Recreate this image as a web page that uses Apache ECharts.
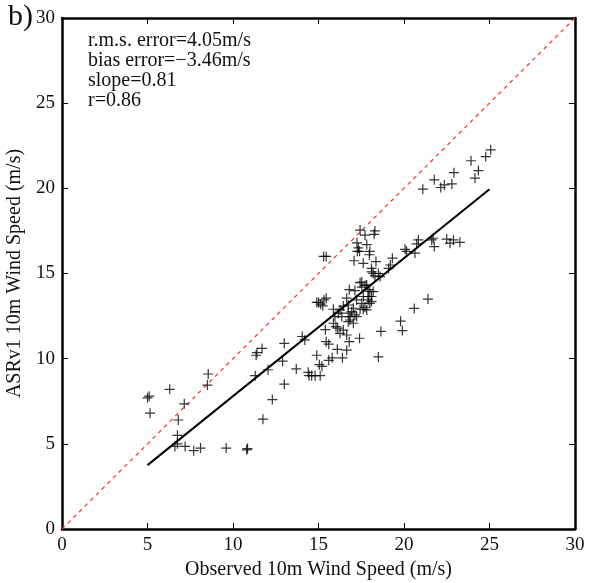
<!DOCTYPE html>
<html>
<head>
<meta charset="utf-8">
<title>ASRv1 wind speed scatter</title>
<script src="https://cdn.jsdelivr.net/npm/echarts@6/dist/echarts.min.js"></script>
<style>
  html, body { margin: 0; padding: 0; background: #fff; }
  #chart { width: 589px; height: 583px; }
</style>
</head>
<body>
<div id="chart"></div>
<script>
// observed 10m wind speed (m/s)
var obsSpeed = [
  5.0, 5.1, 5.15, 6.3, 7.15, 6.8, 6.75, 6.6, 6.75, 7.2, 7.7, 8.1, 8.55, 8.5, 9.6, 10.8, 10.85,
  11.35, 11.4, 11.3, 11.75, 11.7, 12.05, 12.3, 12.9, 13.0, 13.0, 13.7, 14.05, 14.2,
  14.4, 14.45, 14.6, 14.8, 15.1, 14.9, 15.05, 15.2, 15.4, 15.45, 15.6, 15.6, 15.8,
  16.1, 16.4, 16.65, 16.8, 17.4, 18.5, 18.65, 19.8, 19.9, 20.6, 21.4,
  21.1, 21.77, 22.15, 22.36, 22.8, 22.92, 23.92, 24.15, 24.35, 24.78, 25.07,
  19.1, 19.2, 19.32, 20.06, 20.15, 20.64, 20.74, 20.84, 21.62, 21.71, 21.77, 22.5, 22.69, 22.89, 23.27,
  15.3, 15.45, 17.43, 17.72, 18.3, 18.25, 17.25, 17.33, 17.4, 17.27, 17.82, 18.0, 17.08, 17.62,
  17.97, 18.36, 18.1, 18.2, 18.5, 17.53, 17.72, 17.53, 17.9, 18.0, 18.1, 16.8, 16.65, 17.23,
  17.62, 17.9, 18.1, 15.0, 15.13, 15.32, 15.45, 15.25, 14.9,
  15.87, 16.26, 16.45, 16.74, 17.04, 17.43, 17.72, 18.0, 16.84, 17.13, 15.96, 16.36, 16.74, 16.16,
  16.02, 16.12, 16.26, 16.45, 16.74, 16.84, 17.04, 17.23, 16.65, 15.87,
  18.3, 18.6, 18.11, 17.82, 17.91, 17.53, 17.82, 18.2, 17.13, 17.43, 17.62, 16.94
];
// ASRv1 10m wind speed (m/s)
var asrSpeed = [
  7.7, 7.8, 6.8, 8.2, 7.35, 6.4, 5.5, 4.85, 5.0, 4.85, 4.6, 4.75, 9.1, 8.45, 4.75, 4.65, 4.72,
  10.2, 10.35, 9.0, 6.45, 10.6, 9.35, 7.6, 9.85, 10.9, 8.5, 9.4, 11.3, 11.1,
  9.2, 9.0, 9.0, 9.0, 9.0, 10.2, 9.65, 9.55, 11.7, 11.0, 10.85, 9.9, 10.05,
  10.55, 10.05, 10.5, 11.0, 11.2, 10.1, 11.6, 12.2, 11.65, 12.95, 13.5,
  19.95, 20.5, 20.05, 20.2, 20.26, 20.92, 21.62, 20.6, 21.04, 21.86, 22.26,
  15.3, 15.5, 15.9, 16.42, 16.3, 16.2, 16.74, 16.97, 16.97, 17.07, 16.58, 17.02, 16.78, 16.97, 16.83,
  16.0, 16.0, 17.55, 17.25, 17.5, 17.3, 16.8, 16.5, 16.3, 16.3, 16.7, 16.3, 15.75, 15.6,
  16.1, 15.7, 15.3, 15.0, 15.0, 14.5, 14.3, 14.2, 14.05, 13.95, 13.65, 14.05, 13.55, 13.45,
  13.65, 13.45, 13.35, 13.3, 13.2, 13.45, 13.55, 13.1, 13.3,
  12.9, 12.86, 13.09, 13.15, 12.96, 12.9, 13.02, 13.25, 12.47, 12.57, 12.47, 12.47, 12.67, 12.67,
  11.88, 11.79, 11.49, 11.68, 12.17, 12.27, 12.08, 12.47, 11.39, 12.08,
  14.86, 14.82, 15.1, 14.33, 13.64, 13.25, 12.86, 13.94, 14.0, 14.46, 12.9, 12.76
];
// regression line end points and 1:1 line
var fitX = [5.0, 25.0];
var fitY = [3.75, 19.95];
var oneToOne = [0, 30];
var axisTicks = [0, 5, 10, 15, 20, 25, 30];
var statsText = ['r.m.s. error=4.05m/s', 'bias error=\u22123.46m/s', 'slope=0.81', 'r=0.86'];

var chart = echarts.init(document.getElementById('chart'));

var pts = [];
for (var i = 0; i < obsSpeed.length; i++) {
  pts.push([obsSpeed[i], asrSpeed[i]]);
}
var fitLine = [[fitX[0], fitY[0]], [fitX[1], fitY[1]]];
var diagLine = [[oneToOne[0], oneToOne[0]], [oneToOne[1], oneToOne[1]]];

var serif = '"Liberation Serif", "DejaVu Serif", serif';
var axMin = axisTicks[0], axMax = axisTicks[axisTicks.length - 1];

function makeAxis(pos, showLabel, name) {
  var ax = {
    type: 'value',
    position: pos,
    min: axMin,
    max: axMax,
    interval: 5,
    axisLine: { show: true, onZero: false, lineStyle: { color: '#000', width: 2.5 } },
    axisTick: { show: true, inside: true, length: 6, lineStyle: { color: '#000', width: 1 } },
    axisLabel: { show: showLabel, color: '#111', fontFamily: serif, fontSize: 19, margin: 7 },
    splitLine: { show: false }
  };
  if (name) {
    ax.name = name;
    ax.nameLocation = 'middle';
    ax.nameTextStyle = { color: '#111', fontFamily: serif, fontSize: 20 };
  }
  return ax;
}

var xBottom = makeAxis('bottom', true, 'Observed 10m Wind Speed (m/s)');
xBottom.nameGap = 26;
var yLeft = makeAxis('left', true, 'ASRv1 10m Wind Speed (m/s)');
yLeft.nameGap = 27;

var graphics = [{
  type: 'text', left: 8, top: 2,
  style: { text: 'b)', fontFamily: serif, fontSize: 30, fill: '#111' }
}];
for (var k = 0; k < statsText.length; k++) {
  graphics.push({
    type: 'text', left: 88, top: 31 + k * 20,
    style: { text: statsText[k], fontFamily: serif, fontSize: 20, fill: '#111' }
  });
}

var option = {
  backgroundColor: '#fff',
  animation: false,
  grid: { left: 62, right: 14, top: 18, bottom: 54, containLabel: false, outerBoundsMode: 'none' },
  xAxis: [xBottom, makeAxis('top', false)],
  yAxis: [yLeft, makeAxis('right', false)],
  graphic: graphics,
  series: [
    {
      type: 'line',
      data: diagLine,
      symbol: 'none',
      lineStyle: { color: '#ff3030', width: 1.2, type: [4, 4] },
      z: 1
    },
    {
      type: 'scatter',
      data: pts,
      symbol: 'path://M4.4,0H5.6V4.4H10V5.6H5.6V10H4.4V5.6H0V4.4H4.4Z',
      symbolSize: 10,
      itemStyle: { color: '#000' },
      z: 3
    },
    {
      type: 'line',
      data: fitLine,
      symbol: 'none',
      lineStyle: { color: '#000', width: 2 },
      z: 4
    }
  ]
};

chart.setOption(option);
</script>
</body>
</html>
